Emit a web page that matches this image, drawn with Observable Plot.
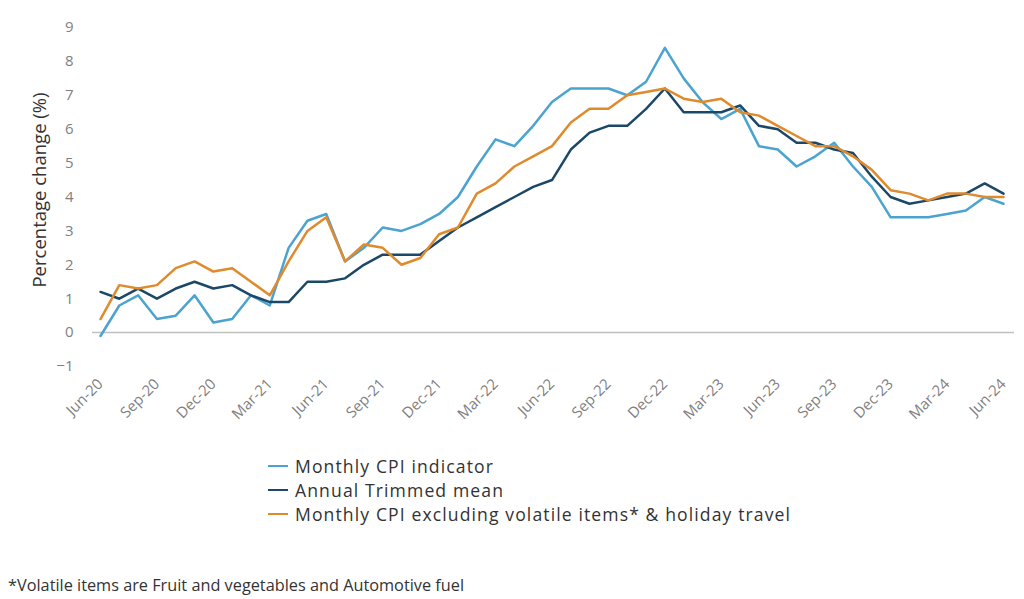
<!DOCTYPE html>
<html>
<head>
<meta charset="utf-8">
<script src="https://cdn.jsdelivr.net/npm/d3@7"></script>
<script src="https://cdn.jsdelivr.net/npm/@observablehq/plot@0.6"></script>
<style>
  html, body { margin: 0; padding: 0; background: #fff; }
  body { width: 1024px; height: 599px; overflow: hidden; font-family: "Open Sans", sans-serif; position: relative; }
  #legend { position: absolute; left: 268px; top: 454px; }
  .item { display: flex; align-items: center; height: 24px; line-height: 22px; font-size: 17.6px; letter-spacing: 1.1px; color: #333; white-space: nowrap; }
  .item span.t { display: inline-block; height: 22px; line-height: 22px; }
  .sw { width: 20px; height: 2.5px; margin-right: 7px; flex: none; }
  #note { position: absolute; left: 8px; top: 574px; font-size: 16.3px; line-height: 22px; color: #333; white-space: nowrap; }
</style>
</head>
<body>
<div id="chart"></div>
<div id="legend"></div>
<div id="note"></div>
<script>
const months = ["Jun-20","Jul-20","Aug-20","Sep-20","Oct-20","Nov-20","Dec-20","Jan-21","Feb-21","Mar-21","Apr-21","May-21",
  "Jun-21","Jul-21","Aug-21","Sep-21","Oct-21","Nov-21","Dec-21","Jan-22","Feb-22","Mar-22","Apr-22","May-22",
  "Jun-22","Jul-22","Aug-22","Sep-22","Oct-22","Nov-22","Dec-22","Jan-23","Feb-23","Mar-23","Apr-23","May-23",
  "Jun-23","Jul-23","Aug-23","Sep-23","Oct-23","Nov-23","Dec-23","Jan-24","Feb-24","Mar-24","Apr-24","May-24","Jun-24"];

const cpiIndicator = [-0.1,0.8,1.1,0.4,0.5,1.1,0.3,0.4,1.1,0.8,2.5,3.3,
  3.5,2.1,2.5,3.1,3.0,3.2,3.5,4.0,4.9,5.7,5.5,6.1,
  6.8,7.2,7.2,7.2,7.0,7.4,8.4,7.5,6.8,6.3,6.6,5.5,
  5.4,4.9,5.2,5.6,4.9,4.3,3.4,3.4,3.4,3.5,3.6,4.0,3.8];

const trimmedMean = [1.2,1.0,1.3,1.0,1.3,1.5,1.3,1.4,1.1,0.9,0.9,1.5,
  1.5,1.6,2.0,2.3,2.3,2.3,2.7,3.1,3.4,3.7,4.0,4.3,
  4.5,5.4,5.9,6.1,6.1,6.6,7.2,6.5,6.5,6.5,6.7,6.1,
  6.0,5.6,5.6,5.4,5.3,4.6,4.0,3.8,3.9,4.0,4.1,4.4,4.1];

const cpiExVolatile = [0.4,1.4,1.3,1.4,1.9,2.1,1.8,1.9,1.5,1.1,2.1,3.0,
  3.4,2.1,2.6,2.5,2.0,2.2,2.9,3.1,4.1,4.4,4.9,5.2,
  5.5,6.2,6.6,6.6,7.0,7.1,7.2,6.9,6.8,6.9,6.5,6.4,
  6.1,5.8,5.5,5.5,5.2,4.8,4.2,4.1,3.9,4.1,4.1,4.0,4.0];

const seriesNames = ["Monthly CPI indicator", "Annual Trimmed mean", "Monthly CPI excluding volatile items* & holiday travel"];
const seriesColors = ["#4ba3d0", "#1c4868", "#e08a2e"];
const seriesValues = [cpiIndicator, trimmedMean, cpiExVolatile];

const tickLabels = ["Jun-20","Sep-20","Dec-20","Mar-21","Jun-21","Sep-21","Dec-21","Mar-22","Jun-22","Sep-22","Dec-22","Mar-23","Jun-23","Sep-23","Dec-23","Mar-24","Jun-24"];
const yTicks = [-1,0,1,2,3,4,5,6,7,8,9];
const yLabel = "Percentage change (%)";
const footnote = "*Volatile items are Fruit and vegetables and Automotive fuel";

const rows = [];
seriesValues.forEach((vals, s) => vals.forEach((v, i) => rows.push({month: months[i], value: v, series: seriesNames[s]})));

const chart = Plot.plot({
  width: 1024,
  height: 430,
  marginLeft: 100,
  marginRight: 21,
  marginTop: 27,
  marginBottom: 64,
  style: {fontFamily: "Open Sans", background: "#fff"},
  x: {type: "point", domain: months, padding: 0},
  y: {domain: [-1, 9]},
  color: {domain: seriesNames, range: seriesColors},
  marks: [
    Plot.ruleY([0], {stroke: "#c0c0c0", strokeWidth: 1.5, insetLeft: -8, insetRight: -11}),
    Plot.axisY({ticks: yTicks, tickSize: 0, tickPadding: 27, fontSize: 15, fill: "#7f7f7f", label: null}),
    Plot.axisX({ticks: tickLabels, tickSize: 0, tickRotate: -45, tickPadding: 15, textAnchor: "end", fontSize: 15, fill: "#7f7f7f", label: null}),
    Plot.text([yLabel], {frameAnchor: "left", dx: -60, dy: -7, rotate: -90, fontSize: 18.5, fill: "#333", textAnchor: "middle"}),
    Plot.line(rows, {x: "month", y: "value", z: "series", stroke: "series", strokeWidth: 2.5, curve: "linear"})
  ]
});
document.getElementById("chart").appendChild(chart);

const legend = document.getElementById("legend");
seriesNames.forEach((n, i) => {
  const it = document.createElement("div");
  it.className = "item";
  const sw = document.createElement("span");
  sw.className = "sw";
  sw.style.background = seriesColors[i];
  const t = document.createElement("span");
  t.className = "t";
  t.textContent = n;
  it.appendChild(sw); it.appendChild(t);
  legend.appendChild(it);
});
document.getElementById("note").textContent = footnote;
</script>
</body>
</html>
